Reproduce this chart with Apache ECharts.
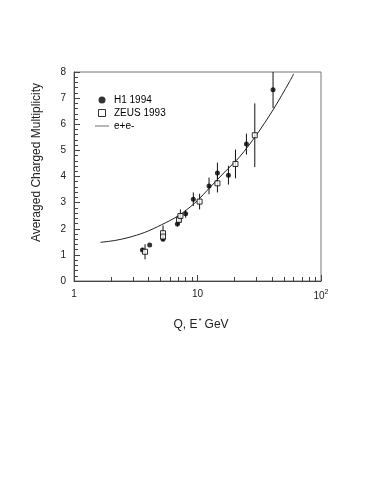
<!DOCTYPE html>
<html><head><meta charset="utf-8">
<script src="https://cdn.jsdelivr.net/npm/echarts@6/dist/echarts.min.js"></script>
<style>html,body{margin:0;padding:0;background:#fff}#c{width:382px;height:494px}</style>
</head><body><div id="c"></div>
<script>
// ---- data ----
const h1X   = [3.58, 4.10, 5.26, 6.87, 8.02, 9.25, 12.4, 14.5, 17.8, 24.9, 40.9];
const h1Y   = [1.19, 1.38, 1.60, 2.18, 2.57, 3.13, 3.64, 4.13, 4.05, 5.24, 7.32];
const h1Err = [0.08, 0.00, 0.05, 0.10, 0.15, 0.26, 0.32, 0.40, 0.36, 0.40, 0.70];

const zeusX   = [3.76, 5.26, 5.26, 7.08, 7.27, 10.4, 14.5, 20.3, 29.1];
const zeusY   = [1.12, 1.83, 1.70, 2.34, 2.49, 3.04, 3.74, 4.48, 5.58];
const zeusErr = [0.29, 0.30, 0.00, 0.20, 0.25, 0.30, 0.35, 0.55, 1.22];

const eeX = [1.64, 2.14, 2.74, 3.74, 5.10, 6.95, 9.49, 12.96, 16.6, 22.0, 30.0, 40.9, 55.8, 60.1];
const eeY = [1.48, 1.55, 1.66, 1.86, 2.15, 2.49, 2.98, 3.64, 4.17, 4.76, 5.59, 6.55, 7.64, 7.93];

const xMajorTicks = [1, 10, 100];
const xMinorTicks = [2, 3, 4, 5, 6, 7, 8, 9, 20, 30, 40, 50, 60, 70, 80, 90];
const xTickLabels = ['1', '10', '10{sup|2}'];
const yMin = 0, yMax = 8, yStep = 1;

// ---- build ----
const lg = v => Math.log10(v);
const FONT = '"Liberation Sans", Arial, sans-serif';
const INK = '#222';

const pts = (xs, ys) => xs.map((x, i) => [lg(x), ys[i]]);
const bars = (xs, ys, es) => xs.map((x, i) => [lg(x), ys[i] - es[i], ys[i] + es[i]]).filter((d, i) => es[i] > 0);

const errRender = (params, api) => {
  const p1 = api.coord([api.value(0), api.value(1)]);
  const p2 = api.coord([api.value(0), api.value(2)]);
  return { type: 'line', shape: { x1: p1[0], y1: p1[1], x2: p2[0], y2: p2[1] },
           style: { stroke: '#111', lineWidth: 1 } };
};

const chart = echarts.init(document.getElementById('c'), null, { renderer: 'canvas' });
chart.setOption({
  animation: false,
  backgroundColor: '#fff',
  grid: { left: 74, right: 61, top: 72, bottom: 213, show: true, borderColor: '#777', borderWidth: 1 },
  legend: {
    orient: 'vertical', left: 90, top: 90, itemWidth: 14, itemHeight: 7, itemGap: 3,
    textStyle: { fontFamily: FONT, fontSize: 10, color: '#000' },
    data: [
      { name: 'H1 1994', icon: 'circle', itemStyle: { color: '#000' } },
      { name: 'ZEUS 1993', icon: 'path://M0,0H10V10H0Z', itemStyle: { color: '#fff', borderColor: '#000', borderWidth: 1 } },
      { name: 'e+e-', icon: 'path://M0,0H20V1.2H0Z', itemStyle: { color: '#555' } }
    ]
  },
  xAxis: [{
    type: 'value', min: lg(xMajorTicks[0]), max: lg(xMajorTicks[xMajorTicks.length - 1]), position: 'bottom',
    axisLine: { show: true, lineStyle: { color: '#444', width: 1 } },
    axisTick: { show: true, inside: true, length: 6, customValues: xMajorTicks.map(lg), lineStyle: { color: '#444' } },
    axisLabel: {
      customValues: xMajorTicks.map(lg), margin: 8, fontFamily: FONT, fontSize: 10, color: INK,
      formatter: v => { const i = xMajorTicks.findIndex(t => Math.abs(lg(t) - v) < 1e-6); return i >= 0 ? xTickLabels[i] : ''; },
      rich: { sup: { fontSize: 7, padding: [0, 0, 7, 0], fontFamily: FONT, color: INK } }
    },
    splitLine: { show: false },
    name: 'Q, E{sup|*}GeV', nameLocation: 'middle', nameGap: 36,
    nameTextStyle: { fontFamily: FONT, fontSize: 12, color: INK, padding: [0, 0, 0, 7],
      rich: { sup: { fontSize: 8, padding: [0, 3, 8, 1], fontFamily: FONT, color: INK } } }
  }, {
    type: 'value', min: lg(xMajorTicks[0]), max: lg(xMajorTicks[xMajorTicks.length - 1]), position: 'bottom',
    axisLine: { show: false },
    axisTick: { show: true, inside: true, length: 4, customValues: xMinorTicks.map(lg), lineStyle: { color: '#444' } },
    axisLabel: { show: false }, splitLine: { show: false }
  }],
  yAxis: {
    type: 'value', min: yMin, max: yMax, interval: yStep,
    axisLine: { show: true, lineStyle: { color: '#444', width: 1 } },
    axisTick: { show: true, inside: true, length: 6, lineStyle: { color: '#444' } },
    minorTick: { show: true, splitNumber: 5, length: 4, lineStyle: { color: '#444' } },
    axisLabel: { margin: 8, fontFamily: FONT, fontSize: 10, color: INK },
    splitLine: { show: false },
    name: 'Averaged Charged Multiplicity', nameLocation: 'middle', nameGap: 31,
    nameTextStyle: { fontFamily: FONT, fontSize: 12, color: INK, padding: [0, 0, 0, 28] }
  },
  series: [
    { type: 'custom', renderItem: errRender, data: bars(h1X, h1Y, h1Err), encode: { x: 0, y: [1, 2] }, clip: true, z: 1, silent: true },
    { type: 'custom', renderItem: errRender, data: bars(zeusX, zeusY, zeusErr), encode: { x: 0, y: [1, 2] }, clip: true, z: 1, silent: true },
    { name: 'e+e-', type: 'line', data: pts(eeX, eeY), smooth: 0.3, showSymbol: false,
      lineStyle: { color: '#222', width: 1 }, itemStyle: { color: '#555' }, z: 2 },
    { name: 'H1 1994', type: 'scatter', data: pts(h1X, h1Y), symbol: 'circle', symbolSize: 5,
      itemStyle: { color: '#000' }, z: 3 },
    { name: 'ZEUS 1993', type: 'scatter', data: pts(zeusX, zeusY), symbol: 'rect', symbolSize: 5,
      itemStyle: { color: '#fff', borderColor: '#000', borderWidth: 1 }, z: 4 }
  ]
});
</script>
</body></html>
